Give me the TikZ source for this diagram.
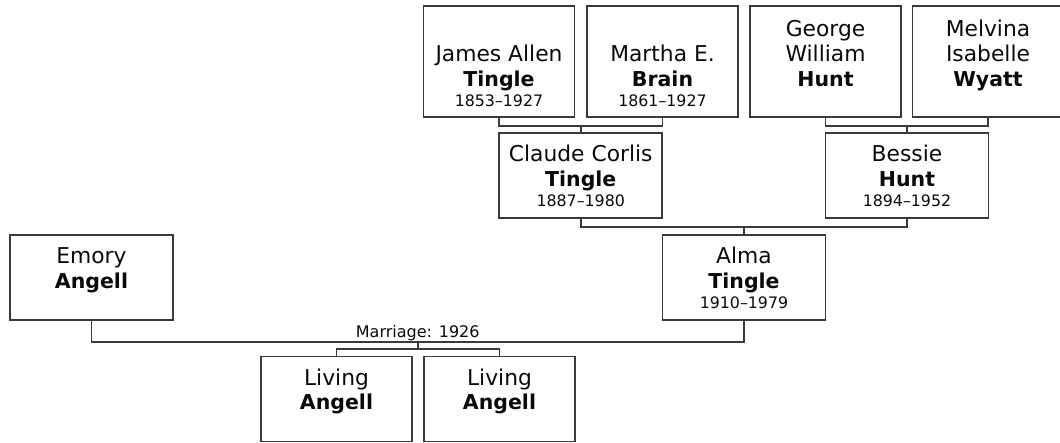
\documentclass[tikz,border=0pt]{standalone}
\usepackage{fontspec}
\setmainfont{DejaVu Sans}
\usetikzlibrary{calc}
\definecolor{cLine}{RGB}{58,58,58}
\definecolor{cText}{RGB}{10,10,10}
\newcommand{\datefont}{\fontsize{15.8}{19}\selectfont}
\newcommand{\surfont}{\fontsize{20.5}{25}\selectfont\bfseries}
\newcommand{\tallcard}[3]{%
  \parbox[c][111pt][t]{148pt}{\centering\rule{0pt}{30.5pt}#1\\{\surfont #2}\\[-4.5pt]{\datefont #3}}}
\newcommand{\shortcard}[3]{%
  \parbox[c][85pt][t]{148pt}{\centering\rule{0pt}{28.5pt}#1\\{\surfont #2}\\[-4.5pt]{\datefont #3}}}
\tikzset{
  card/.style={draw=cLine, line width=1.6pt, inner sep=0pt, text=cText,
               font=\fontsize{21.8}{25}\selectfont},
  pTall/.style  ={card, minimum width=151pt},
  pShort/.style ={card, minimum width=163pt},
  pLiving/.style={card, minimum width=151pt},
  famline/.style={draw=cLine, line width=1.6pt},
  marlabel/.style={font=\fontsize{16}{19}\selectfont, inner sep=0pt, text=cText},
}

\begin{document}
\begin{tikzpicture}[x=1pt, y=-1pt]
\useasboundingbox (0,0) rectangle (1060,443);
\clip (0,0) rectangle (1060,443);

%% ============================================================
%% GRANDPARENTS  (top row)
%% ============================================================
\node[pTall] (james)   at (499,61.5)   {\tallcard{\\James Allen}{Tingle}{1853–1927}};
\node[pTall] (martha)  at (662.5,61.5) {\tallcard{\\Martha E.}{Brain}{1861–1927}};
\node[pTall] (george)  at (825.5,61.5) {\tallcard{George\\William}{Hunt}{}};
\node[pTall] (melvina) at (988,61.5)   {\tallcard{Melvina\\Isabelle}{Wyatt}{}};

%% ============================================================
%% PARENTS
%% ============================================================
\node[pShort] (claude) at (580.75,175.5) {\shortcard{Claude Corlis}{Tingle}{1887–1980}};
\node[pShort] (bessie) at (907,175.5)    {\shortcard{Bessie}{Hunt}{1894–1952}};

%% ============================================================
%% COUPLE
%% ============================================================
\node[pShort] (emory) at (91.5,277.5) {\shortcard{Emory}{Angell}{}};
\node[pShort] (alma)  at (744,277.5)  {\shortcard{Alma}{Tingle}{1910–1979}};

%% ============================================================
%% CHILDREN
%% ============================================================
\node[pLiving] (livingA) at (336.5,399) {\shortcard{Living}{Angell}{}};
\node[pLiving] (livingB) at (499.5,399) {\shortcard{Living}{Angell}{}};

%% ============================================================
%% FAMILY LINES
%% ============================================================
% Tingle grandparents -> Claude
\draw[famline] (james.south) -- ++(0,8) coordinate (tgJoin) -| (martha.south);
\draw[famline] (claude.north) -- (claude.north |- tgJoin);

% Hunt grandparents -> Bessie
\draw[famline] (george.south) -- ++(0,8) coordinate (hgJoin) -| (melvina.south);
\draw[famline] (bessie.north) -- (bessie.north |- hgJoin);

% Claude + Bessie -> Alma
\draw[famline] (claude.south) -- ++(0,8) coordinate (cbJoin) -| (bessie.south);
\draw[famline] (alma.north) -- (alma.north |- cbJoin);

% Emory + Alma -> children
\draw[famline] (emory.south) -- ++(0,21) coordinate (marJoin) -| (alma.south);
\coordinate (marMid) at ($(marJoin)!0.5!(marJoin -| alma.south)$);
\node[marlabel, anchor=base] (marr) at ($(marMid)+(0,-4)$) {Marriage: 1926};
\draw[famline] (marMid) -- ++(0,7) coordinate (kidJoin);
\draw[famline] (livingA.north) -- (livingA.north |- kidJoin)
  -- (livingB.north |- kidJoin) -- (livingB.north);

\end{tikzpicture}
\end{document}
